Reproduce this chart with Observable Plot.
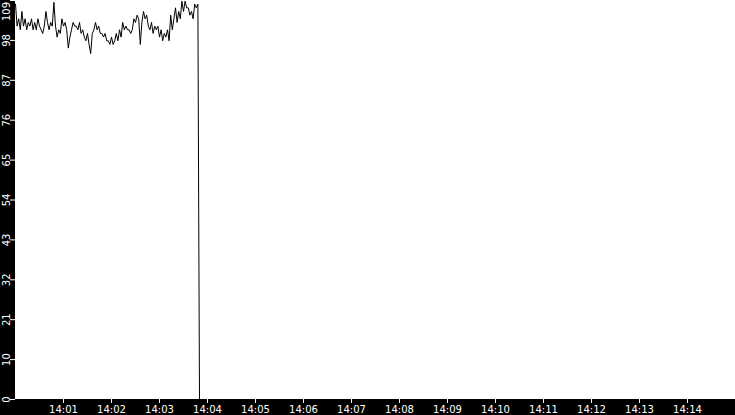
<!DOCTYPE html>
<html><head><meta charset="utf-8">
<script src="https://cdn.jsdelivr.net/npm/d3@7"></script>
<script src="https://cdn.jsdelivr.net/npm/@observablehq/plot@0.6"></script>
<style>html,body{margin:0;padding:0;background:#000;overflow:hidden}</style>
</head><body><div id="chart"></div>
<script>
const startTime = Date.UTC(2024, 0, 1, 14, 0, 0);
const endTime = Date.UTC(2024, 0, 1, 14, 15, 0);
const stepSeconds = 2;
const values = [
  108, 102, 104,
  101, 106, 102, 104, 101, 103, 102, 104, 101,
  103, 101, 104, 102,
  101, 100, 102,
  106, 103,
  101, 103, 102,
  108.5,
  102, 99, 101, 100,
  104, 102, 103, 101,
  96, 99, 101,
  103, 102,
  102, 101, 103, 100, 101,
  99, 98, 100, 97,
  94.5,
  100, 101, 103, 101, 102, 100,
  100, 99, 100, 98,
  98, 97, 99, 97, 98,
  100, 98, 101, 99,
  103, 101, 102, 101,
  101, 100, 101,
  104, 103, 105, 104,
  97, 103,
  106, 104, 105,
  102, 101, 103, 100, 102, 101,
  102, 99, 101, 98, 100, 99, 101, 98,
  105, 101, 104,
  107, 103, 106, 104,
  108.8, 106, 108.8, 107,
  107, 105, 106,
  104, 108, 107
];
const tailSeconds = [228, 229, 230];
const tailValues = [108, 52, 0];
const xTickLabels = ["14:01","14:02","14:03","14:04","14:05","14:06","14:07","14:08","14:09","14:10","14:11","14:12","14:13","14:14"];
const yTickValues = [0, 10.9, 21.8, 32.7, 43.6, 54.5, 65.4, 76.3, 87.2, 98.1, 109];
const yTickLabels = ["0","10","21","32","43","54","65","76","87","98","109"];

const data = values.map((v, i) => ({t: new Date(startTime + i * stepSeconds * 1000), v}))
  .concat(tailSeconds.map((s, i) => ({t: new Date(startTime + s * 1000), v: tailValues[i]})));
const xTicks = xTickLabels.map(s => {
  const [h, m] = s.split(":").map(Number);
  return new Date(Date.UTC(2024, 0, 1, h, m, 0));
});
const yLabels = yTickValues.map((v, i) => ({v, label: yTickLabels[i]}));
const lastLabel = yLabels.slice(-1);
const otherLabels = yLabels.slice(0, -1);

const chart = Plot.plot({
  width: 735, height: 415,
  marginLeft: 15, marginRight: 0, marginTop: 0, marginBottom: 16,
  style: {background: "black", color: "white", fontFamily: "DejaVu Sans", fontSize: "10px", overflow: "hidden"},
  x: {type: "utc", domain: [new Date(startTime), new Date(endTime)]},
  y: {domain: [0, 109]},
  marks: [
    Plot.frame({fill: "white", stroke: "none", dx: -0.5, dy: -0.5}),
    Plot.line(data, {x: "t", y: "v", stroke: "black", strokeWidth: 1, clip: true}),
    Plot.axisX({ticks: xTicks, tickFormat: (d, i) => xTickLabels[i], tickSize: 4, tickPadding: 2, stroke: "white", fill: "white", label: null}),
    Plot.axisY({ticks: yTickValues, tickFormat: () => "", tickSize: 5, stroke: "white", label: null}),
    Plot.text(otherLabels, {y: "v", text: "label", frameAnchor: "left", dx: -6, rotate: -90, textAnchor: "middle", lineAnchor: "bottom", fill: "white"}),
    Plot.text(lastLabel, {y: "v", text: "label", frameAnchor: "left", dx: -6, dy: 1.5, rotate: -90, textAnchor: "end", lineAnchor: "bottom", fill: "white"})
  ]
});
document.getElementById("chart").appendChild(chart);
</script>
</body></html>
